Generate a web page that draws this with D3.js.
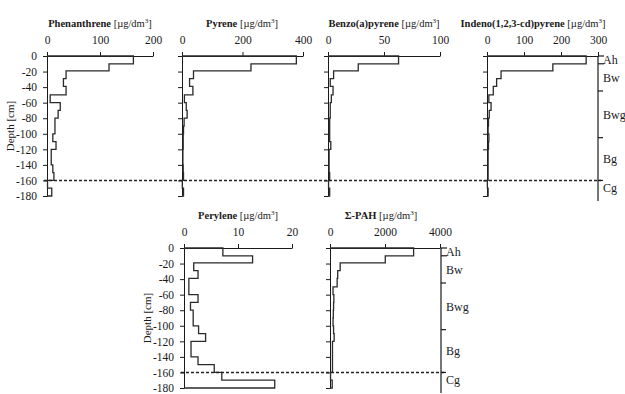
<!DOCTYPE html>
<html>
<head>
<meta charset="utf-8">
<script src="https://cdn.jsdelivr.net/npm/d3@7"></script>
<style>
  body { margin: 0; background: #fff; }
  svg { display: block; }
</style>
</head>
<body>
<script>
// sample layer boundaries (cm), 18 layers
const depthBounds = [0, -10, -19, -29, -39, -50, -60, -70, -80, -90, -100, -110, -120, -130, -140, -150, -160, -170, -180];
const depthTicks = [0, -20, -40, -60, -80, -100, -120, -140, -160, -180];

// concentrations per layer [µg/dm³]
const phenanthrene = [163, 117, 36, 31, 36, 6, 25, 21, 15, 15, 11, 17, 8, 8, 11, 13, 1, 9];
const pyrene = [378, 228, 38, 25, 36, 8, 14, 17, 7, 5, 4, 4, 3, 3, 4, 5, 1, 5];
const benzoPyrene = [63, 27, 5, 2, 4.5, 3, 2, 2, 1.5, 1.5, 1.5, 2.5, 1, 1, 1, 1.5, 0.5, 1.5];
const indenoPyrene = [268, 178, 38, 26, 17, 5, 11, 6, 4, 3, 5, 4, 3, 3, 3, 3, 1, 3];
const perylene = [7.2, 12.7, 1.8, 2.6, 0.9, 0.9, 2.6, 1.2, 1.7, 1.7, 2.7, 4.0, 1.3, 1.3, 2.6, 5.6, 7.0, 16.8];
const sumPAH = [3040, 2010, 370, 280, 260, 110, 140, 130, 120, 110, 130, 150, 90, 90, 90, 90, 20, 80];

// soil horizons
const horizonNames = ["Ah", "Bw", "Bwg", "Bg", "Cg"];
const horizonBounds = [0, -10, -45, -105, -160, -180];

const W = 625, H = 394;
const FONT = "'Liberation Serif', 'Times New Roman', serif";
const INK = "#1a1a1a";

const svg = d3.select("body").append("svg")
  .attr("width", W)
  .attr("height", H);

const rowTop = [56, 248];
const rowDepth = 140;

const panels = [
  { name: "Phenanthrene", values: phenanthrene, max: 200, ticks: [0, 100, 200], left: 47, right: 153, row: 0, labels: true, titleX: 100 },
  { name: "Pyrene", values: pyrene, max: 400, ticks: [0, 200, 400], left: 182, right: 303, row: 0, labels: false, titleX: 242 },
  { name: "Benzo(a)pyrene", values: benzoPyrene, max: 100, ticks: [0, 50, 100], left: 328, right: 440, row: 0, labels: false, titleX: 384 },
  { name: "Indeno(1,2,3-cd)pyrene", values: indenoPyrene, max: 300, ticks: [0, 100, 200, 300], left: 487, right: 598, row: 0, labels: false, titleX: 533 },
  { name: "Perylene", values: perylene, max: 20, ticks: [0, 10, 20], left: 184, right: 292, row: 1, labels: true, titleX: 238 },
  { name: "\u03A3-PAH", values: sumPAH, max: 4000, ticks: [0, 2000, 4000], left: 330, right: 440, row: 1, labels: false, titleX: 381 }
];

function yScale(row) {
  return d3.scaleLinear().domain([0, -180]).range([rowTop[row], rowTop[row] + rowDepth]);
}

function styleAxis(g) {
  g.attr("font-family", FONT).attr("font-size", 11.5);
  g.selectAll("path, line").attr("stroke", INK).attr("stroke-width", 1);
  g.selectAll("text").attr("fill", INK);
}

panels.forEach(p => {
  const x = d3.scaleLinear().domain([0, p.max]).range([p.left, p.right]);
  const y = yScale(p.row);
  const g = svg.append("g");

  // title
  const t = g.append("text")
    .attr("x", p.titleX)
    .attr("y", rowTop[p.row] - 29)
    .attr("text-anchor", "middle")
    .attr("font-family", FONT)
    .attr("font-size", 10.5)
    .attr("fill", INK);
  t.append("tspan").attr("font-weight", "bold").text(p.name + " ");
  t.append("tspan").text("[\u00B5g/dm");
  t.append("tspan").attr("font-size", 7).attr("dy", -4).text("3");
  t.append("tspan").attr("dy", 4).text("]");

  // top value axis
  g.append("g")
    .attr("transform", `translate(0,${y(0)})`)
    .call(d3.axisTop(x).tickValues(p.ticks).tickSize(4).tickPadding(8).tickSizeOuter(0)
      .tickFormat(d3.format("d")))
    .call(styleAxis);

  // depth axis
  g.append("g")
    .attr("transform", `translate(${x(0)},0)`)
    .call(d3.axisLeft(y).tickValues(depthTicks).tickSize(4).tickPadding(6).tickSizeOuter(0)
      .tickFormat(p.labels ? d => d : () => ""))
    .call(styleAxis);

  if (p.labels) {
    g.append("text")
      .attr("transform", `translate(${p.left - 33},${y(-90)}) rotate(-90)`)
      .attr("text-anchor", "middle")
      .attr("font-family", FONT)
      .attr("font-size", 11)
      .attr("fill", INK)
      .text("Depth [cm]");
  }

  // step profile
  const pts = [[0, depthBounds[0]]];
  p.values.forEach((v, i) => {
    pts.push([v, depthBounds[i]]);
    pts.push([v, depthBounds[i + 1]]);
  });
  pts.push([0, depthBounds[depthBounds.length - 1]]);

  const line = d3.line()
    .x(d => x(d[0]))
    .y(d => y(d[1]));

  g.append("path")
    .datum(pts)
    .attr("d", line)
    .attr("fill", "none")
    .attr("stroke", "#2a2a2a")
    .attr("stroke-width", 1.3);
});

// horizon columns and the -160 cm dashed boundary
const horizonCols = [
  { x: 598, row: 0, dashFrom: 44 },
  { x: 441, row: 1, dashFrom: 181 }
];

horizonCols.forEach(h => {
  const y = yScale(h.row);
  const g = svg.append("g");

  g.append("line")
    .attr("x1", h.dashFrom).attr("x2", h.x + 3)
    .attr("y1", y(-160)).attr("y2", y(-160))
    .attr("stroke", "#222")
    .attr("stroke-width", 1.5)
    .attr("stroke-dasharray", "3,2");

  g.append("line")
    .attr("x1", h.x).attr("x2", h.x)
    .attr("y1", y(0)).attr("y2", y(-180) + 5)
    .attr("stroke", INK)
    .attr("stroke-width", 1.2);

  g.selectAll(".htick")
    .data(horizonBounds.slice(0, -1))
    .join("line")
    .attr("x1", h.x).attr("x2", (d, i) => h.x + (i < 2 ? 6 : 5))
    .attr("y1", d => y(d)).attr("y2", d => y(d))
    .attr("stroke", INK)
    .attr("stroke-width", 1.2);

  g.selectAll(".hlabel")
    .data(horizonNames)
    .join("text")
    .attr("x", h.x + 5)
    .attr("y", (d, i) => y((horizonBounds[i] + horizonBounds[i + 1]) / 2))
    .attr("dy", "0.35em")
    .attr("font-family", FONT)
    .attr("font-size", 12)
    .attr("fill", INK)
    .text(d => d);
});
</script>
</body>
</html>
